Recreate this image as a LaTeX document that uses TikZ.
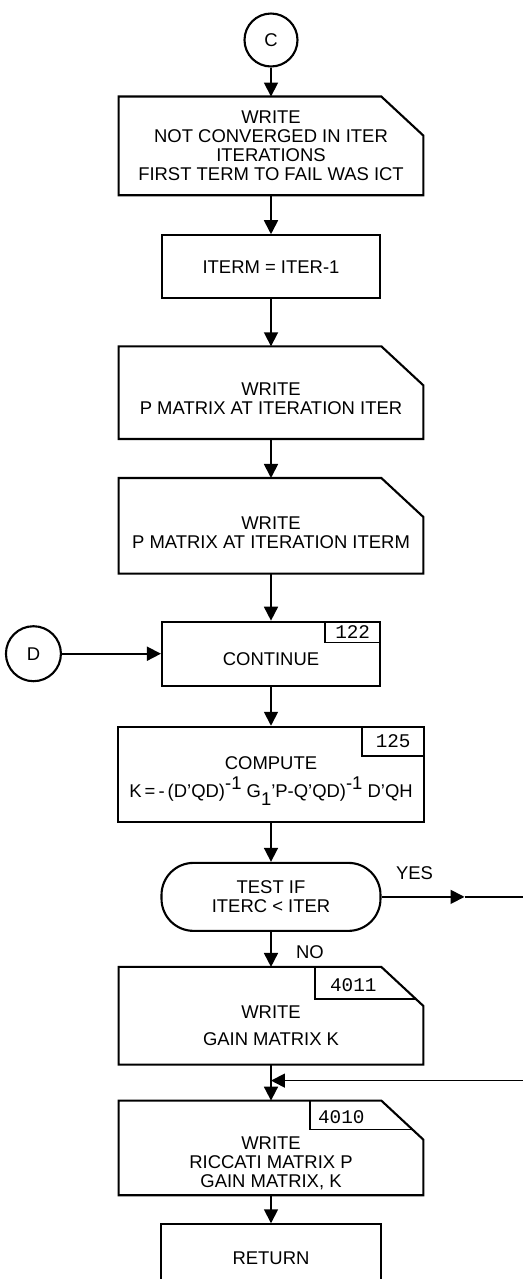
\documentclass[tikz,border=0pt]{standalone}
\usepackage{fontspec}
\setsansfont{Liberation Sans}
\setmonofont{Liberation Mono}
\usetikzlibrary{positioning}
\usetikzlibrary{arrows.meta}

% outline of a write box: rectangle with the top right corner cut off
\newcommand{\cutframe}[1]{%
  \draw[frame] (#1.south west) -- (#1.north west) -- ([xshift=-0.84cm]#1.north east)
    -- ([yshift=-0.78cm]#1.north east) -- (#1.south east) -- cycle;}

\begin{document}
\begin{tikzpicture}[x=0.02cm, y=-0.02cm,
  lettering/.style={font=\sffamily\fontsize{10.5}{10.8}\selectfont},
  frame/.style={line width=1.2pt, line join=miter},
  conn/.style={circle, draw, line width=1.2pt, minimum size=1.06cm, inner sep=0pt, lettering},
  proc/.style={rectangle, draw, line width=1.2pt, minimum width=4.36cm, minimum height=1.28cm, inner sep=0pt, align=center, lettering},
  wbox/.style={rectangle, minimum width=6.08cm, inner sep=0pt},
  term/.style={rectangle, draw, rounded corners=0.64cm, line width=1.2pt, minimum width=4.38cm, minimum height=1.36cm, inner sep=0pt, align=center, lettering},
  txt/.style={align=center, inner sep=0pt, lettering},
  tag/.style={rectangle, draw, line width=1pt, inner sep=0pt, font=\ttfamily\fontsize{11}{11}\selectfont},
  tagnum/.style={inner sep=0pt, font=\ttfamily\fontsize{11}{11}\selectfont},
  line/.style={line width=1pt},
  arrow/.style={-{Triangle[length=0.28cm, width=0.28cm]}, line width=1pt}
]
  \useasboundingbox (0,0) rectangle (523,1279);

  % not converged
  \node[conn] (c) at (271,40) {C};
  \node[wbox, minimum height=1.96cm, below=0.58cm of c] (b1) {};
  \cutframe{b1}
  \node[txt] (b1t) at (b1.center) {WRITE\\NOT CONVERGED IN ITER\\ITERATIONS\\FIRST TERM TO FAIL WAS ICT};
  \node[proc, minimum height=1.26cm, below=0.78cm of b1] (b2) {ITERM = ITER-1};
  \node[wbox, minimum height=1.84cm, below=0.94cm of b2] (b3) {};
  \cutframe{b3}
  \node[txt] (b3t) at ([yshift=-0.12cm]b3.center) {WRITE\\P MATRIX AT ITERATION ITER};
  \node[wbox, minimum height=1.9cm, below=0.78cm of b3] (b4) {};
  \cutframe{b4}
  \node[txt] (b4t) at ([yshift=-0.14cm]b4.center) {WRITE\\P MATRIX AT ITERATION ITERM};

  \draw[arrow] (c) -- (b1);
  \draw[arrow] (b1) -- (b2);
  \draw[arrow] (b2) -- (b3);
  \draw[arrow] (b3) -- (b4);

  % gain matrix
  \node[proc, below=0.94cm of b4] (b5) {};
  \node[tag, minimum width=1.1cm, minimum height=0.42cm, anchor=north east] (t122) at (b5.north east) {122};
  \node[txt] (b5t) at ([yshift=-0.1cm]b5.center) {CONTINUE};
  \node[conn, minimum size=1.1cm, left=1.98cm of b5] (d) {D};
  \node[proc, minimum width=6.12cm, minimum height=1.9cm, below=0.78cm of b5] (b6) {};
  \node[tag, minimum width=1.24cm, minimum height=0.58cm, anchor=north east] (t125) at (b6.north east) {125};
  \node[txt] (b6t) at ([yshift=-0.14cm]b6.center) {COMPUTE\\[3pt]
    K\,=\,-\,(D'QD)\raisebox{0.8ex}{-1} G\raisebox{-0.8ex}{1}'P-Q'QD)\raisebox{0.8ex}{-1} D'QH};
  \node[term, below=0.78cm of b6] (t) {TEST IF\\ITERC < ITER};

  \draw[arrow] (b4) -- (b5);
  \draw[arrow] (d) -- (b5);
  \draw[arrow] (b5) -- (b6);
  \draw[arrow] (b6) -- (t);

  % output
  \node[wbox, minimum height=1.94cm, below=0.7cm of t] (b7) {};
  \cutframe{b7}
  \draw[frame, line width=1pt] ([xshift=-2.16cm]b7.north east) |- ([xshift=-0.15cm, yshift=-0.64cm]b7.north east);
  \node[tagnum] (n4011) at ([xshift=-1.4cm, yshift=-0.36cm]b7.north east) {4011};
  \node[txt] (b7t) at ([yshift=-0.2cm]b7.center) {WRITE\\[5pt]GAIN MATRIX K};
  \node[wbox, minimum height=1.88cm, below=0.72cm of b7] (b8) {};
  \cutframe{b8}
  \draw[frame, line width=1pt] ([xshift=-2.26cm]b8.north east) |- ([xshift=-0.215cm, yshift=-0.58cm]b8.north east);
  \node[tagnum] (n4010) at ([xshift=-1.64cm, yshift=-0.34cm]b8.north east) {4010};
  \node[txt] (b8t) at ([yshift=-0.3cm]b8.center) {WRITE\\RICCATI MATRIX P\\GAIN MATRIX, K};
  \node[proc, minimum width=4.4cm, minimum height=1.34cm, below=0.56cm of b8] (b9) {RETURN};

  \node[lettering] (yes) at ([xshift=0.66cm, yshift=0.48cm]t.east) {YES};
  \node[lettering] (no) at ([xshift=0.78cm, yshift=0.3cm]b7.north) {NO};

  \coordinate (yestip) at ([xshift=1.66cm]t.east);
  \coordinate (yesend) at (t.east -| 523,0);
  \coordinate (merge) at ([yshift=-0.32cm]b7.south);
  \coordinate (mergein) at (merge -| yesend);

  \draw[arrow] (t) -- (yestip);
  \draw[line] (yestip) -- (yesend);
  \draw[arrow] (t) -- (b7);
  \draw[arrow] (b7) -- (b8);
  \draw[arrow] (mergein) -- (merge);
  \draw[arrow] (b8) -- (b9);
\end{tikzpicture}
\end{document}
